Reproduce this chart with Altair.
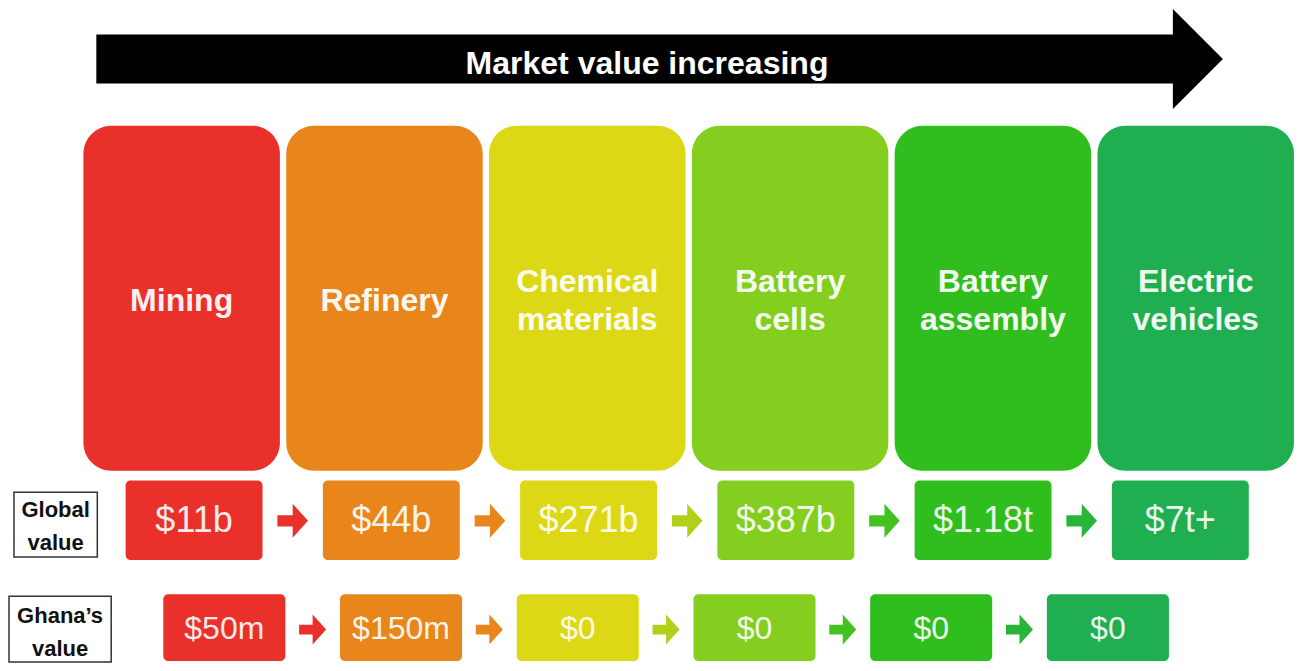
import altair as alt
import pandas as pd

# ---------------- data ----------------
stages = ["Mining", "Refinery", "Chemical materials", "Battery cells",
          "Battery assembly", "Electric vehicles"]
stage_lines = [["Mining"], ["Refinery"], ["Chemical", "materials"],
               ["Battery", "cells"], ["Battery", "assembly"], ["Electric", "vehicles"]]
global_values = ["$11b", "$44b", "$271b", "$387b", "$1.18t", "$7t+"]
ghana_values = ["$50m", "$150m", "$0", "$0", "$0", "$0"]
row_labels = [["Global", "value"], ["Ghana\u2019s", "value"]]
banner_text = "Market value increasing"

# ---------------- styles ----------------
stage_colors = ["#E9302A", "#E8861B", "#DDD816", "#83CE1E", "#30BE1F", "#1FAF51"]
arrow_colors = ["#E9302A", "#E8861B", "#B3CF1A", "#45C21F", "#27B63A"]
FONT = "Liberation Sans"
W, H = 1286, 655

xs = alt.Scale(domain=[8, 1294], nice=False, zero=False)
ys = alt.Scale(domain=[3, 668], nice=False, zero=False, reverse=True)

ARROW = "M -0.9 -0.33 L 0 -0.33 L 0 -1 L 0.9 0 L 0 1 L 0 0.33 L -0.9 0.33 Z"
HEAD = "M 0 -1 L 1 0 L 0 1 Z"

n = len(stages)

# ---------------- layout tables ----------------
big = pd.DataFrame({
    "stage": stages,
    "color": stage_colors,
    "x": [82 + i * 204.4 for i in range(n)],
})
big["x2"] = big["x"] + 198
big["y"] = 123
big["y2"] = 475

big_text_rows = []
for i, lines in enumerate(stage_lines):
    cx = 82 + i * 204.4 + 99
    k = len(lines)
    for j, ln in enumerate(lines):
        big_text_rows.append({"t": ln, "x": cx, "y": 312 - (k - 1) * 39 / 2 + j * 39})
big_text = pd.DataFrame(big_text_rows)

glob = pd.DataFrame({"value": global_values, "color": stage_colors,
                     "cx": [193.5 + i * 198.8 for i in range(n)]})
glob["x"] = glob["cx"] - 69
glob["x2"] = glob["cx"] + 69
glob["y"] = 485
glob["y2"] = 566
glob["ty"] = 537

gh = pd.DataFrame({"value": ghana_values, "color": stage_colors,
                   "cx": [224 + i * 178.1 for i in range(n)]})
gh["x"] = gh["cx"] - 61.5
gh["x2"] = gh["cx"] + 61.5
gh["y"] = 601
gh["y2"] = 669
gh["ty"] = 647

glob_arr = pd.DataFrame({"color": arrow_colors,
                         "x": [193.5 + 99.4 + i * 198.8 for i in range(n - 1)]})
glob_arr["y"] = 526
gh_arr = pd.DataFrame({"color": arrow_colors,
                       "x": [224 + 89 + i * 178.1 for i in range(n - 1)]})
gh_arr["y"] = 637

label_boxes = pd.DataFrame({"x": [12, 7], "x2": [96, 110], "y": [497, 603], "y2": [563, 670]})
label_text_rows = []
for (lines, cx, b0) in zip(row_labels, [54, 58.5], [522, 630]):
    for j, ln in enumerate(lines):
        label_text_rows.append({"t": ln, "x": cx, "y": b0 + j * 34})
label_text = pd.DataFrame(label_text_rows)

banner = pd.DataFrame({"x": [95], "x2": [1182], "y": [30], "y2": [80],
                       "hx": [1180], "hy": [55], "tx": [650], "ty": [70], "t": [banner_text]})

# ---------------- helpers ----------------
def X(f="x"):
    return alt.X(f"{f}:Q", scale=xs, axis=None)

def Y(f="y"):
    return alt.Y(f"{f}:Q", scale=ys, axis=None)

col = alt.Color("color:N", scale=None, legend=None)

shaft = alt.Chart(banner).mark_rect(color="black").encode(x=X(), x2="x2", y=Y(), y2="y2")
head = alt.Chart(banner).mark_point(shape=HEAD, size=10000, filled=True, opacity=1,
                                     color="black", strokeWidth=0).encode(x=X("hx"), y=Y("hy"))
btext = alt.Chart(banner).mark_text(font=FONT, fontSize=32, fontWeight="bold", color="white",
                                     align="center", baseline="alphabetic").encode(
    x=X("tx"), y=Y("ty"), text="t:N")

big_boxes = alt.Chart(big).mark_rect(cornerRadius=28).encode(
    x=X(), x2="x2", y=Y(), y2="y2", color=col)
big_labels = alt.Chart(big_text).mark_text(font=FONT, fontSize=32, fontWeight="bold",
                                           color="#FFFFFF", opacity=0.93, align="center",
                                           baseline="alphabetic").encode(
    x=X(), y=Y(), text="t:N")

glob_boxes = alt.Chart(glob).mark_rect(cornerRadius=5).encode(
    x=X(), x2="x2", y=Y(), y2="y2", color=col)
glob_labels = alt.Chart(glob).mark_text(font=FONT, fontSize=36, color="#FFFFFF", opacity=0.9,
                                        align="center", baseline="alphabetic").encode(
    x=X("cx"), y=Y("ty"), text="value:N")
glob_arrows = alt.Chart(glob_arr).mark_point(shape=ARROW, size=1156, filled=True, opacity=1,
                                             strokeWidth=0).encode(x=X(), y=Y(), color=col)

gh_boxes = alt.Chart(gh).mark_rect(cornerRadius=5).encode(
    x=X(), x2="x2", y=Y(), y2="y2", color=col)
gh_labels = alt.Chart(gh).mark_text(font=FONT, fontSize=32, color="#FFFFFF", opacity=0.9,
                                    align="center", baseline="alphabetic").encode(
    x=X("cx"), y=Y("ty"), text="value:N")
gh_arrows = alt.Chart(gh_arr).mark_point(shape=ARROW, size=900, filled=True, opacity=1,
                                         strokeWidth=0).encode(x=X(), y=Y(), color=col)

lbl_boxes = alt.Chart(label_boxes).mark_rect(fill="white", fillOpacity=0, stroke="#333333",
                                             strokeWidth=1.5).encode(
    x=X(), x2="x2", y=Y(), y2="y2")
lbl_text = alt.Chart(label_text).mark_text(font=FONT, fontSize=22, fontWeight="bold",
                                           color="#111111", align="center",
                                           baseline="alphabetic").encode(
    x=X(), y=Y(), text="t:N")

chart = alt.layer(
    shaft, head, btext,
    big_boxes, big_labels,
    glob_boxes, glob_arrows, glob_labels,
    gh_boxes, gh_arrows, gh_labels,
    lbl_boxes, lbl_text,
).properties(
    width=W, height=H, padding=0,
    autosize=alt.AutoSizeParams(type="fit", contains="padding"),
    background="white",
).configure_view(stroke=None)

chart.save("out.html", embed_options={"renderer": "svg", "actions": False})
